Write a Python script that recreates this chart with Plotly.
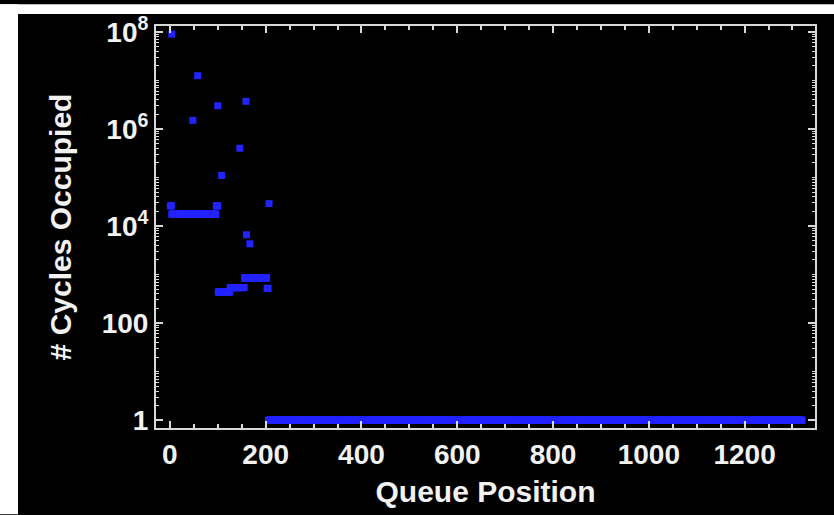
import plotly.graph_objects as go

# ---- data ----
# contiguous runs of queue positions sharing (roughly) the same value
seg_start = [1, 4, 97, 101, 126, 156, 203, 206]
seg_end = [3, 96, 100, 125, 155, 202, 205, 1320]
seg_value = [2.6e4, 1.75e4, 2.6e4, 440, 540, 850, 520, 1]

# isolated points
out_x = [4, 48, 58, 100, 108, 146, 159, 160, 167, 207]
out_y = [9.0e7, 1.5e6, 1.25e7, 3.0e6, 1.1e5, 4.0e5, 3.7e6, 6.6e3, 4.3e3, 2.9e4]

x_tickvals = [0, 200, 400, 600, 800, 1000, 1200]
y_tickvals = [1, 100, 1e4, 1e6, 1e8]
y_ticktext = ["1", "100", "10<sup>4</sup>", "10<sup>6</sup>", "10<sup>8</sup>"]

xs, ys = [], []
for s, e, v in zip(seg_start, seg_end, seg_value):
    for q in range(s, e + 1):
        xs.append(q)
        ys.append(v)

minor_y = [m * 10 ** d for d in range(0, 9) for m in range(1, 10)
           if not (m == 1 and d % 2 == 0)]

BLUE = "#2323ff"
AX = "#d8d8d8"
TXT = "#f2f2f2"
FONT = "Liberation Sans"

fig = go.Figure()
fig.add_trace(go.Scatter(x=xs, y=ys, mode="markers",
                         marker=dict(symbol="square", size=7, color=BLUE, line=dict(width=0)),
                         showlegend=False, hoverinfo="x+y"))
fig.add_trace(go.Scatter(x=out_x, y=out_y, mode="markers",
                         marker=dict(symbol="square", size=7, color=BLUE, line=dict(width=0)),
                         showlegend=False, hoverinfo="x+y"))

L, R, T, B = 156, 19, 22, 87
W, H = 834, 515
pw, ph = W - L - R, H - T - B

def px(xp):
    return (xp - L) / pw

def py(yp):
    return (H - B - yp) / ph

# white strips at top and left of the picture
fig.add_shape(type="rect", xref="paper", yref="paper",
              x0=px(0), x1=px(W), y0=py(10), y1=py(0),
              fillcolor="white", line=dict(width=0), layer="above")
fig.add_shape(type="rect", xref="paper", yref="paper",
              x0=px(0), x1=px(18), y0=py(H), y1=py(0),
              fillcolor="white", line=dict(width=0), layer="above")

fig.update_layout(
    width=W, height=H,
    margin=dict(l=L, r=R, t=T, b=B),
    paper_bgcolor="black", plot_bgcolor="black",
    font=dict(family=FONT, color=TXT, size=22),
    showlegend=False,
)
fig.update_xaxes(
    range=[-29, 1347], showgrid=False, zeroline=False,
    showline=True, linecolor=AX, linewidth=2, mirror="allticks",
    ticks="inside", ticklen=7, tickwidth=2, tickcolor=AX,
    tickvals=x_tickvals,
    tickfont=dict(family=FONT, size=28, color=TXT, weight="bold"),
    minor=dict(dtick=50, ticks="inside", ticklen=4, tickwidth=1.5, tickcolor=AX),
    title=dict(text="Queue Position", standoff=12,
               font=dict(family=FONT, size=30, color=TXT, weight="bold")),
)
fig.update_yaxes(
    type="log", range=[-0.16, 8.12], showgrid=False, zeroline=False,
    showline=True, linecolor=AX, linewidth=2, mirror="allticks",
    ticks="inside", ticklen=7, tickwidth=2, tickcolor=AX,
    tickvals=y_tickvals, ticktext=y_ticktext,
    tickfont=dict(family=FONT, size=28, color=TXT, weight="bold"),
    minor=dict(tickvals=minor_y, ticks="inside", ticklen=3, tickwidth=1, tickcolor=AX),
    title=dict(text="# Cycles Occupied", standoff=21,
               font=dict(family=FONT, size=30, color=TXT, weight="bold")),
)

fig.write_html("out.html", config={"displayModeBar": False},
               post_script="document.body.style.margin='0px';")
